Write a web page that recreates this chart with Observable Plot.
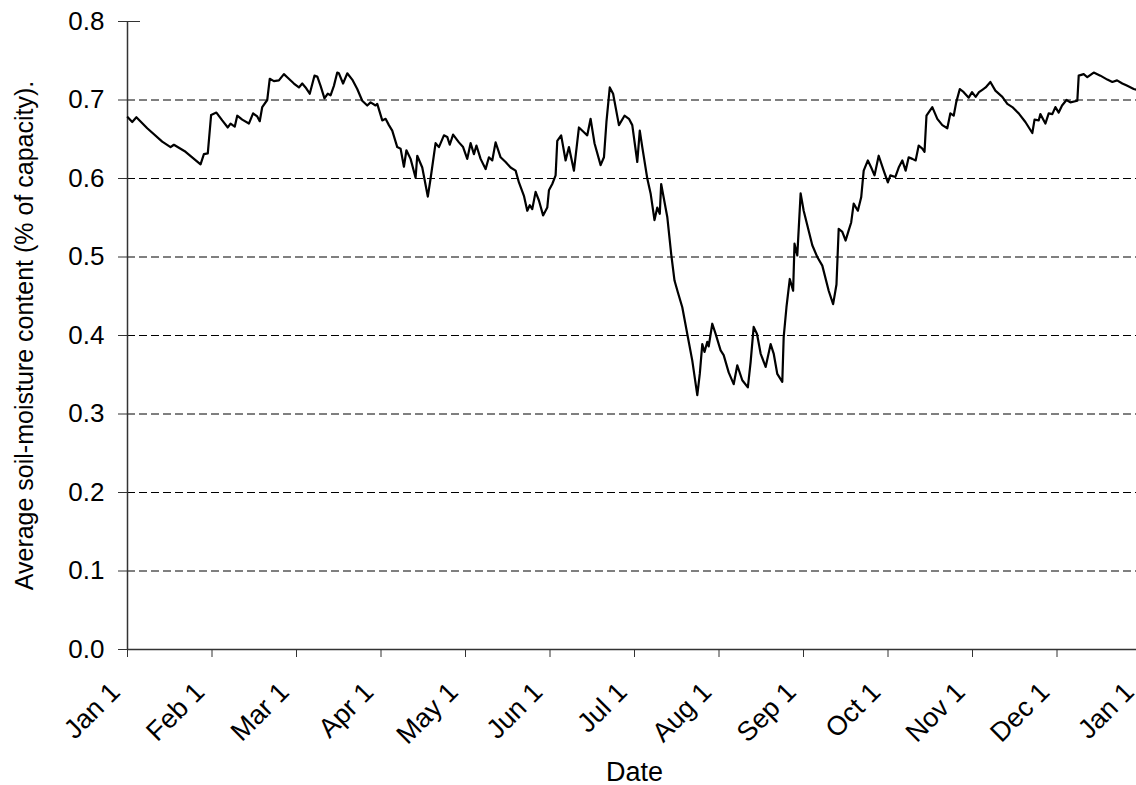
<!DOCTYPE html>
<html><head><meta charset="utf-8">
<script src="https://cdn.jsdelivr.net/npm/d3@7"></script>
<script src="https://cdn.jsdelivr.net/npm/@observablehq/plot@0.6"></script>
<style>
html,body{margin:0;padding:0;background:#fff;overflow:hidden;width:1136px;height:785px;}
#chart svg{overflow:hidden;display:block;}
</style></head><body><div id="chart"></div>
<script>
const monthLabels = ["Jan 1","Feb 1","Mar 1","Apr 1","May 1","Jun 1","Jul 1","Aug 1","Sep 1","Oct 1","Nov 1","Dec 1","Jan 1"];
const yTicks = [0,0.1,0.2,0.3,0.4,0.5,0.6,0.7,0.8];
const gridValues = [0.1,0.2,0.3,0.4,0.5,0.6,0.7];
const days = [0.1,1.7,3.2,7.1,12.5,15.5,16.7,20.9,26.3,27.5,28.9,30.1,32.0,34.1,36.1,37.1,38.6,39.5,41.3,43.7,45.2,46.7,47.6,48.5,50.3,51.2,52.7,54.5,56.3,57.5,59.9,61.7,62.9,64.1,65.6,67.3,68.3,69.5,70.9,72.1,73.1,74.3,75.5,76.1,77.6,79.1,80.9,82.7,84.5,86.3,87.5,89.3,89.9,91.7,92.9,94.1,95.3,97.1,98.3,99.5,100.4,101.9,103.7,104.3,106.1,108.1,109.1,110.9,112.1,113.9,115.1,116.0,117.2,119.3,120.8,122.3,123.5,124.7,125.6,127.1,128.9,130.1,131.3,132.5,134.3,136.1,137.9,139.7,140.9,142.7,143.9,144.8,145.7,146.9,148.1,149.6,151.1,151.7,152.9,154.1,154.7,156.1,157.7,158.9,160.7,162.5,164.3,165.5,166.7,168.1,170.3,171.5,172.4,173.6,174.8,176.9,178.9,180.5,181.7,183.5,184.4,185.3,187.1,188.3,189.7,190.7,191.6,192.1,194.3,195.7,196.9,198.1,199.7,201.5,203.3,205.1,206.0,206.9,207.7,208.7,209.2,210.5,211.7,213.5,214.6,216.4,218.2,219.5,221.3,223.3,224.3,225.4,226.6,227.9,229.7,231.5,232.6,233.9,235.7,236.2,237.2,238.4,239.6,240.1,241.1,242.3,243.4,246.5,248.3,250.1,252.4,254.0,255.2,256.0,257.3,258.5,259.6,260.5,261.4,262.9,264.1,265.0,266.5,267.7,268.9,270.4,272.2,273.7,274.6,276.4,277.6,278.9,280.1,281.2,282.5,283.7,284.8,286.1,286.9,287.6,289.7,291.5,293.3,295.1,296.2,297.4,298.3,299.6,301.0,302.8,304.0,305.3,306.5,307.7,308.9,310.6,312.4,314.9,316.7,318.5,320.8,323.2,325.7,326.5,328.0,328.6,330.4,331.6,332.9,334.0,335.2,336.4,338.0,339.4,341.9,342.4,344.2,345.5,347.8,350.2,352.7,354.5,356.2,358.1,359.9,362.2,363.2,365];
const moisture = [0.678,0.672,0.678,0.664,0.647,0.640,0.643,0.634,0.618,0.631,0.632,0.681,0.684,0.674,0.665,0.670,0.666,0.680,0.675,0.670,0.683,0.679,0.673,0.691,0.700,0.727,0.724,0.725,0.733,0.729,0.721,0.716,0.721,0.716,0.708,0.731,0.730,0.718,0.702,0.708,0.706,0.718,0.735,0.734,0.721,0.734,0.726,0.714,0.699,0.693,0.697,0.693,0.695,0.674,0.676,0.668,0.661,0.640,0.638,0.615,0.636,0.625,0.601,0.629,0.614,0.577,0.600,0.645,0.640,0.655,0.653,0.643,0.656,0.646,0.640,0.625,0.645,0.631,0.642,0.625,0.612,0.627,0.623,0.646,0.627,0.621,0.614,0.610,0.595,0.578,0.559,0.566,0.561,0.583,0.572,0.553,0.563,0.585,0.593,0.604,0.648,0.655,0.623,0.640,0.610,0.665,0.659,0.655,0.676,0.645,0.617,0.627,0.672,0.716,0.708,0.668,0.680,0.676,0.668,0.621,0.661,0.640,0.600,0.581,0.547,0.563,0.555,0.593,0.551,0.504,0.470,0.455,0.436,0.402,0.368,0.324,0.351,0.389,0.379,0.392,0.386,0.415,0.402,0.381,0.375,0.353,0.338,0.362,0.343,0.334,0.366,0.411,0.402,0.377,0.360,0.389,0.377,0.351,0.341,0.398,0.436,0.472,0.457,0.517,0.502,0.581,0.559,0.515,0.500,0.489,0.457,0.440,0.465,0.536,0.532,0.521,0.534,0.544,0.568,0.559,0.576,0.610,0.623,0.614,0.604,0.629,0.610,0.595,0.604,0.602,0.614,0.623,0.610,0.627,0.625,0.623,0.642,0.638,0.634,0.680,0.691,0.676,0.668,0.664,0.683,0.680,0.697,0.714,0.710,0.703,0.710,0.704,0.710,0.713,0.716,0.723,0.712,0.704,0.695,0.691,0.683,0.672,0.658,0.675,0.674,0.682,0.670,0.683,0.682,0.691,0.684,0.693,0.700,0.697,0.699,0.731,0.733,0.729,0.735,0.731,0.726,0.723,0.725,0.721,0.718,0.714,0.713,0.712];

const data = days.map((d, i) => ({day: d, value: moisture[i]}));
const tickPositions = monthLabels.map((_, i) => i * 365 / 12);
const labelFor = d => monthLabels[Math.round(d * 12 / 365)];

const plot = Plot.plot({
  width: 1136,
  height: 785,
  marginLeft: 127,
  marginRight: -5,
  marginTop: 21,
  marginBottom: 136,
  style: {fontFamily: "'Liberation Sans', Arial, sans-serif", fontSize: "26px", color: "#000", background: "#fff"},
  x: {domain: [0, 365]},
  y: {domain: [0, 0.8]},
  marks: [
    Plot.ruleY(gridValues, {stroke: "#000", strokeDasharray: "8,4", strokeWidth: 1}),
    Plot.axisY(yTicks, {tickSize: 9, tickPadding: 14, tickFormat: d => d.toFixed(1), label: null, fontSize: 26, stroke: "#333"}),
    Plot.axisY([0.8], {tickSize: -13, fill: "none", label: null, stroke: "#333"}),
    Plot.axisX(tickPositions, {tickSize: 8, fill: "none", label: null, stroke: "#333"}),
    Plot.axisX(tickPositions, {tickSize: 8, stroke: "none", tickRotate: -45, tickPadding: 30, dx: -12, tickFormat: labelFor, label: null, fontSize: 27, fill: "#000"}),
    Plot.ruleX([0], {stroke: "#333", strokeWidth: 1.5}),
    Plot.ruleY([0], {stroke: "#333", strokeWidth: 1.5}),
    Plot.line(data, {x: "day", y: "value", stroke: "#000", strokeWidth: 2.2}),
    Plot.text(["Date"], {frameAnchor: "bottom", dy: 131, fontSize: 27, fill: "#000"}),
    Plot.text(["Average soil-moisture content (% of capacity)."], {frameAnchor: "left", textAnchor: "middle", rotate: -90, dx: -103, fontSize: 25, fill: "#000"})
  ]
});
document.getElementById("chart").appendChild(plot);
</script>
</body></html>
